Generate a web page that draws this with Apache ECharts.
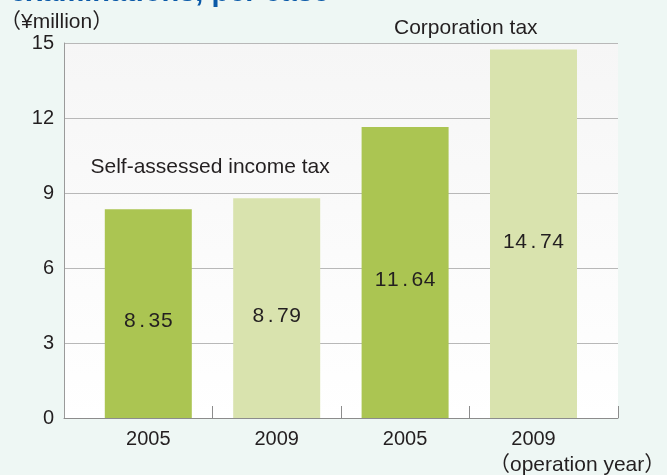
<!DOCTYPE html>
<html>
<head>
<meta charset="utf-8">
<script src="https://cdn.jsdelivr.net/npm/echarts@6/dist/echarts.min.js"></script>
<style>
html,body{margin:0;padding:0;background:#eef7f4;}
#c{width:667px;height:475px;}
</style>
</head>
<body>
<div id="c"></div>
<script>
// ---- data ----
const categories = ['2005', '2009', '2005', '2009'];
const values = [8.35, 8.79, 11.64, 14.74];
const yMin = 0, yMax = 15, yInterval = 3;
const groupLabels = ['Self-assessed income tax', 'Corporation tax'];
const unitLabel = '（¥million）';
const xAxisNote = '（operation year）';
const titleText = 'examinations, per case';

// ---- layout ----
const plotLeft = 64, plotRight = 618, plotTop = 43, plotBottom = 57;
const slotLeft = 84.1, slot = 128.4;
const slotRight = slotLeft + slot * categories.length;
const xMin = (plotLeft - slotLeft) / slot;
const xMax = (plotRight - slotLeft) / slot;
const boundaries = categories.slice(1).map((_, i) => i + 1).concat([xMax]);

const font = "'Liberation Sans', Arial, 'Noto Sans CJK JP', sans-serif";
const textColor = '#231f20';
const dark = '#abc552', light = '#d9e3ae';

const chart = echarts.init(document.getElementById('c'), null, {renderer: 'canvas'});
chart.setOption({
  backgroundColor: '#eef7f4',
  animation: false,
  textStyle: {fontFamily: font},
  grid: [
    {left: plotLeft, right: 667 - plotRight, top: plotTop, bottom: plotBottom, show: true, borderWidth: 0,
     backgroundColor: {type: 'linear', x: 0, y: 0, x2: 0, y2: 1,
       colorStops: [{offset: 0, color: '#f6f6f6'}, {offset: 1, color: '#ffffff'}]}},
    {left: slotLeft, right: 667 - slotRight, top: plotTop, bottom: plotBottom}
  ],
  xAxis: [
    {gridIndex: 0, type: 'value', min: xMin, max: xMax,
     axisLine: {show: true, onZero: false, lineStyle: {color: '#8c8c8c', width: 1}},
     axisTick: {show: true, inside: true, length: 12, customValues: boundaries, lineStyle: {color: '#8c8c8c'}},
     axisLabel: {show: false}, splitLine: {show: false}, z: 5},
    {gridIndex: 1, type: 'category', data: categories,
     axisLine: {show: false}, axisTick: {show: false},
     axisLabel: {fontSize: 20, color: textColor, margin: 11, fontFamily: font}}
  ],
  yAxis: [
    {gridIndex: 0, type: 'value', min: yMin, max: yMax, interval: yInterval,
     axisLine: {show: true, onZero: false, lineStyle: {color: '#9a9a9a'}},
     axisTick: {show: false},
     axisLabel: {fontSize: 20, color: textColor, margin: 10, fontFamily: font},
     splitLine: {show: true, lineStyle: {color: '#b8b8b8', width: 1}}},
    {gridIndex: 1, type: 'value', min: yMin, max: yMax, interval: yInterval, show: false}
  ],
  series: [{
    type: 'bar', xAxisIndex: 1, yAxisIndex: 1, data: values, barWidth: 87,
    itemStyle: {color: p => (p.dataIndex % 2 === 0 ? dark : light)},
    label: {show: true, position: 'inside', offset: [0, 8],
      fontFamily: font, fontSize: 21, color: textColor,
      formatter: p => p.value.toFixed(2).split('').map(ch => '{d|' + ch + '}').join(''),
      rich: {d: {fontFamily: font, fontSize: 21, color: textColor, width: 12.3, align: 'center', lineHeight: 22}}},
    z: 3
  }],
  graphic: [
    {type: 'text', left: 10, top: -22, style: {text: titleText, fontFamily: font, fontSize: 29, fontWeight: 'bold', fill: '#0b5aa8'}},
    {type: 'text', x: 0, y: 22, style: {text: unitLabel, fontFamily: font, fontSize: 21, fill: textColor, verticalAlign: 'middle'}},
    {type: 'text', x: 90.5, y: 167, style: {text: groupLabels[0], fontFamily: font, fontSize: 21, fill: textColor, verticalAlign: 'middle'}},
    {type: 'text', x: 394, y: 28, style: {text: groupLabels[1], fontFamily: font, fontSize: 21, fill: textColor, verticalAlign: 'middle'}},
    {type: 'text', x: 489, y: 465, style: {text: xAxisNote, fontFamily: font, fontSize: 21, fill: textColor, verticalAlign: 'middle'}}
  ]
});
</script>
</body>
</html>
